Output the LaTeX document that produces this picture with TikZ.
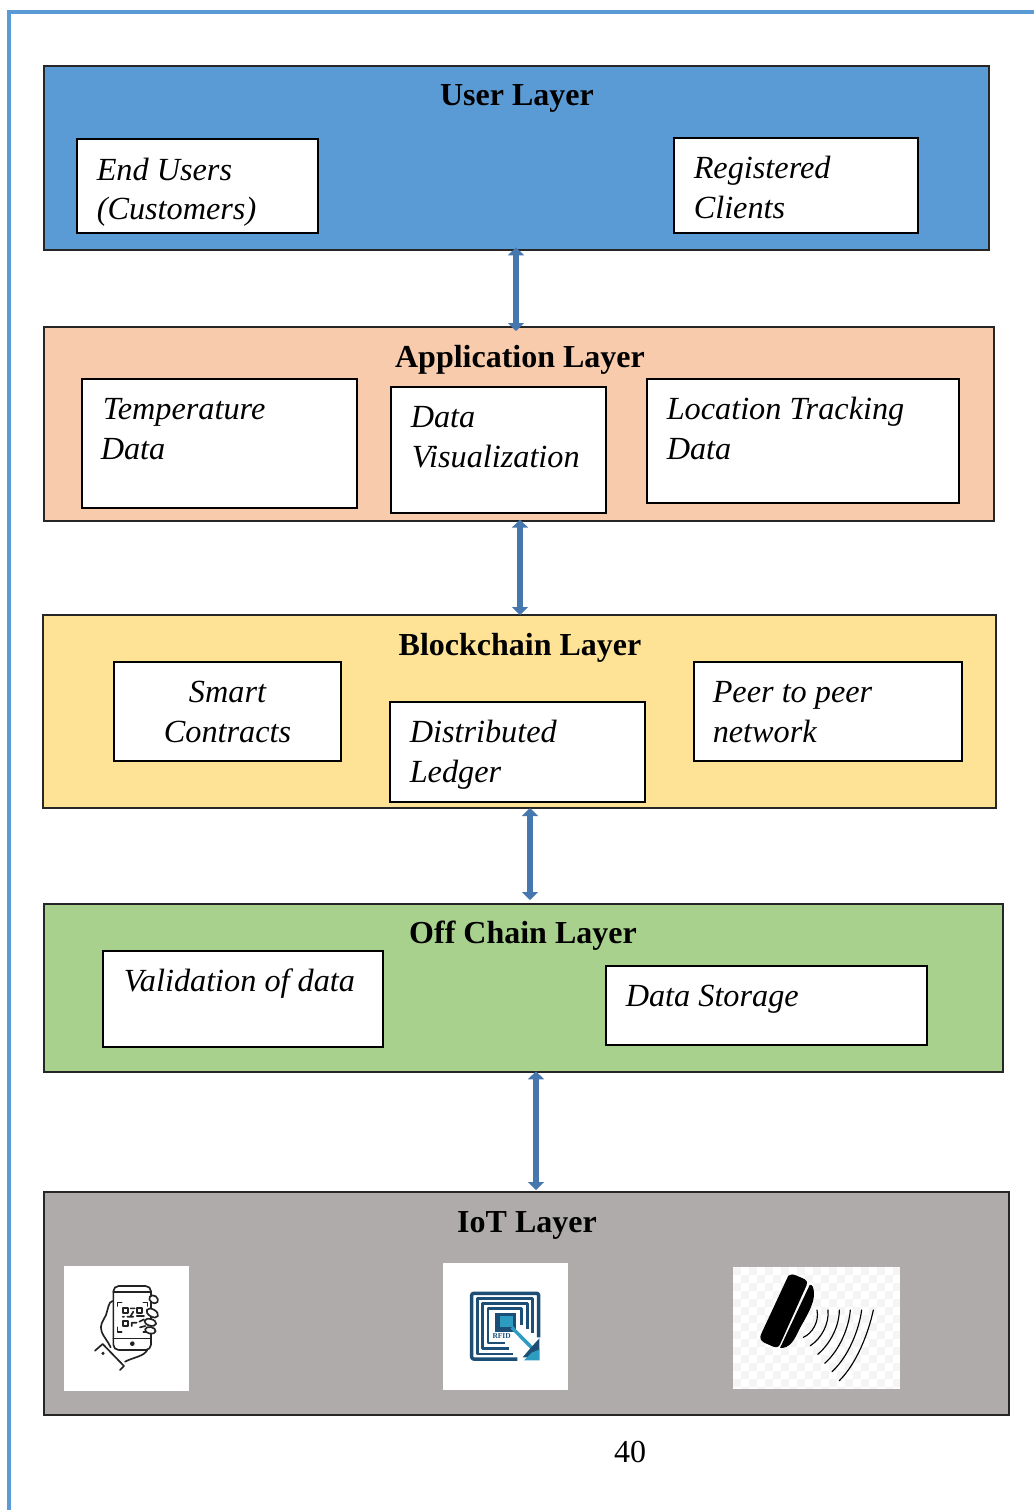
\documentclass[tikz,border=0pt]{standalone}
\usepackage{fontspec}
\setmainfont{Liberation Serif}
\usetikzlibrary{arrows.meta}
\definecolor{frameblue}{HTML}{5B9BD5}
\definecolor{userfill}{HTML}{5B9BD5}
\definecolor{appfill}{HTML}{F8CBAD}
\definecolor{chainfill}{HTML}{FEE396}
\definecolor{offfill}{HTML}{A9D18E}
\definecolor{iotfill}{HTML}{AFABAB}
\definecolor{linkblue}{HTML}{4677AE}
\definecolor{navy}{HTML}{1D4F76}
\definecolor{teal2}{HTML}{2E9CC0}
\definecolor{iconink}{HTML}{222222}
\tikzset{
  layer/.style={draw=black!85,line width=1.1pt,inner sep=0pt,outer sep=0pt},
  subbox/.style={draw=black,line width=1.05pt,fill=white,inner sep=0pt,outer sep=0pt},
  picbox/.style={fill=white,inner sep=0pt,outer sep=0pt},
  title/.style={anchor=base,inner sep=0pt,font=\fontsize{24}{28}\selectfont\bfseries},
  itext/.style={anchor=base west,inner sep=0pt,align=left,font=\fontsize{24.2}{30}\selectfont\itshape},
  link/.style={draw=linkblue,line width=4.8pt,{Triangle[width=12pt,length=6pt]}-{Triangle[width=12pt,length=6pt]}},
  frameline/.style={draw=frameblue,line width=2.7pt},
  ink/.style={draw=iconink,line width=1.25pt,line cap=round,line join=round},
  wave/.style={draw=black,line width=.85pt,line cap=round},
  rfidline/.style={draw=navy,line width=1.9pt,line join=round}
}
\newcommand{\rectnode}[6]{\node[#1,minimum width={(#5-#3)*0.75pt},minimum height={(#6-#4)*0.75pt}] (#2) at ({(#3+#5)/2},{(#4+#6)/2}) {};}
\begin{document}
\begin{tikzpicture}[x=0.75pt,y=-0.75pt]
\useasboundingbox (0,0) rectangle (1034,1510);
% page frame
\coordinate (f1) at (9,1510);
\coordinate (f2) at (9,12);
\coordinate (f3) at (1034,12);
\draw[frameline] (f1) -- (f2) -- (f3);
% layers
\rectnode{layer,fill=userfill}{user}{44}{66}{989}{250}
\rectnode{layer,fill=appfill}{app}{44}{327}{994}{521}
\rectnode{layer,fill=chainfill}{chain}{43}{615}{996}{808}
\rectnode{layer,fill=offfill}{off}{44}{904}{1003}{1072}
\rectnode{layer,fill=iotfill}{iot}{44}{1192}{1009}{1415}
% titles
\node[title] (t1) at (517,105.5) {User Layer};
\node[title] (t2) at (520,367) {Application Layer};
\node[title] (t3) at (520,655.5) {Blockchain Layer};
\node[title] (t4) at (523,943.5) {Off Chain Layer};
\node[title] (t5) at (527,1232) {IoT Layer};
% sub boxes
\rectnode{subbox}{b1}{77}{139}{318}{233}
\rectnode{subbox}{b2}{674}{138}{918}{233}
\rectnode{subbox}{b3}{82}{379}{357}{508}
\rectnode{subbox}{b4}{391}{387}{606}{513}
\rectnode{subbox}{b5}{647}{379}{959}{503}
\rectnode{subbox}{b6}{114}{662}{341}{761}
\rectnode{subbox}{b7}{390}{702}{645}{802}
\rectnode{subbox}{b8}{694}{662}{962}{761}
\rectnode{subbox}{b9}{103}{951}{383}{1047}
\rectnode{subbox}{b10}{606}{966}{927}{1045}
% sub box texts
\node[itext] (x1) at (96.5,180) {End Users};
\node[itext] (x1b) at (96.5,219) {(Customers)};
\node[itext] (x2) at (693.5,178) {Registered};
\node[itext] (x2b) at (693.5,218) {Clients};
\node[itext] (x3) at (102.5,419) {Temperature};
\node[itext] (x3b) at (100.5,459) {Data};
\node[itext] (x4) at (410.5,427) {Data};
\node[itext] (x4b) at (411.5,467) {Visualization};
\node[itext] (x5) at (666.5,419) {Location Tracking};
\node[itext] (x5b) at (666.5,459) {Data};
\node[itext,anchor=base] (x6) at (227.5,702) {Smart};
\node[itext,anchor=base] (x6b) at (227.5,742) {Contracts};
\node[itext] (x7) at (409.5,742) {Distributed};
\node[itext] (x7b) at (409.5,782) {Ledger};
\node[itext] (x8) at (712.5,702) {Peer to peer};
\node[itext] (x8b) at (712.5,742) {network};
\node[itext] (x9) at (123.5,991) {Validation of data};
\node[itext] (x10) at (625.5,1006) {Data Storage};
% connectors
\coordinate (c1) at (516,0);
\coordinate (c2) at (520,0);
\coordinate (c3) at (530,0);
\coordinate (c4) at (536,0);
\draw[link,shorten <=-2pt,shorten >=-3pt] (user.south -| c1) -- (app.north -| c1);
\draw[link,shorten <=-1pt,shorten >=0pt] (app.south -| c2) -- (chain.north -| c2);
\draw[link,shorten <=0pt,shorten >=3pt] (chain.south -| c3) -- (off.north -| c3);
\draw[link,shorten <=-0.5pt,shorten >=1.5pt] (off.south -| c4) -- (iot.north -| c4);
% page number
\node[anchor=base,inner sep=0pt,font=\fontsize{24}{28}\selectfont] (pg) at (630,1462) {40};
% picture backgrounds
\rectnode{picbox}{p1}{64}{1266}{189}{1391}
\rectnode{picbox}{p2}{443}{1263}{568}{1390}
\rectnode{picbox}{p3}{733}{1267}{900}{1389}
% checker of third picture
\foreach \i in {0,...,20}{\foreach \j in {0,...,15}{
  \pgfmathparse{int(mod(\i+\j,2))}
  \ifnum\pgfmathresult=0
    \fill[black!4] ({733+\i*8},{1267+\j*8}) rectangle ++({\ifnum\i=20 7\else 8\fi},{\ifnum\j=15 2\else 8\fi});
  \fi}}
% phone icon
\begin{scope}[shift={(40,1240)},x=0.25pt,y=-0.25pt]
\draw[ink,rounded corners=4pt] (220,138) rectangle (333,330);
\draw[ink] (220,155) -- (333,155) (220,295) -- (333,295);
\fill[iconink] (277,311) circle (7);
\draw[ink] (232,198) -- (232,187) -- (245,187) (310,187) -- (322,187) -- (322,198)
  (232,262) -- (232,275) -- (245,275) (310,275) -- (322,275) -- (322,262);
\draw[ink] (248,203) rectangle (263,218) (290,203) rectangle (305,218) (248,243) rectangle (263,258);
\draw[ink] (272,205) -- (284,205) (280,215) -- (272,228) (248,230) -- (252,230) (262,230) -- (280,230)
  (290,228) -- (312,228) (275,258) -- (275,248) -- (290,248) (298,245) -- (312,238) (300,262) -- (316,258);
\draw[ink,fill=white,rotate around={-35:(341,178)}] (341,178) ellipse (14 and 11);
\draw[ink,fill=white,rotate around={-30:(337,219)}] (337,219) ellipse (19 and 11);
\draw[ink,fill=white,rotate around={-15:(331,247)}] (331,247) ellipse (18 and 10);
\draw[ink,fill=white,rotate around={-10:(331,271)}] (331,271) ellipse (16 and 10);
\draw[ink] (218,183) .. controls (205,185) and (205,205) .. (198,225) .. controls (188,245) and (178,255) .. (185,275)
  .. controls (190,290) and (205,305) .. (212,322);
\draw[ink] (165,332) -- (188,312) -- (252,378) -- (240,390);
\fill[iconink] (189,340) circle (5);
\draw[ink] (255,365) .. controls (285,350) and (310,350) .. (322,330);
\end{scope}
% rfid icon
\begin{scope}[shift={(430,1250)},x=0.25pt,y=-0.25pt]
\draw[rfidline,line width=2.6pt,rounded corners=1.5pt] (326,262) -- (326,130) -- (125,130) -- (125,327) -- (262,327);
\draw[rfidline] (308,248) -- (308,146) -- (142,146) -- (142,312) -- (250,312);
\draw[rfidline] (292,236) -- (292,160) -- (158,160) -- (158,296) -- (238,296);
\draw[rfidline] (275,224) -- (275,176) -- (174,176) -- (174,279) -- (226,279);
\fill[navy] (195,190) rectangle (258,245);
\fill[teal2] (210,197) rectangle (250,232);
\fill[white] (182,247) rectangle (250,270);
\draw[draw=white,line width=4.5pt] (258,245) -- (300,288);
\draw[draw=teal2,line width=2.6pt] (245,232) -- (312,300);
\fill[navy] (328,265) -- (328,300) -- (300,322) -- (278,322) -- (300,296) -- cycle;
\fill[teal2] (329,298) -- (329,331) -- (282,331) -- (305,308) -- cycle;
\node[inner sep=0pt,font=\fontsize{5.6}{6}\selectfont\bfseries,text=navy] (rf) at (215,259) {RFID};
\end{scope}
% nfc icon
\begin{scope}[shift={(725,1255)},x=0.25pt,y=-0.25pt]
\fill[black] (190,62) .. controls (197,56) and (205,58) .. (215,62) -- (238,72) .. controls (246,77) and (248,82) .. (245,90)
  -- (165,268) .. controls (160,277) and (155,278) .. (145,275) -- (118,263) .. controls (106,257) and (104,248) .. (108,238) -- cycle;
\fill[black] (254,90) .. controls (262,88) and (266,96) .. (267,115) .. controls (268,150) and (240,190) .. (222,225)
  .. controls (208,255) and (195,280) .. (165,279) -- cycle;
\draw[wave] (276,165) .. controls (283,200) and (262,235) .. (235,247);
\draw[wave] (309,165) .. controls (313,205) and (290,250) .. (256,272);
\draw[wave] (343,165) .. controls (343,210) and (318,265) .. (278,298);
\draw[wave] (376,165) .. controls (372,215) and (345,285) .. (299,325);
\draw[wave] (410,165) .. controls (402,225) and (370,305) .. (321,350);
\draw[wave] (445,165) .. controls (430,235) and (395,325) .. (343,377);
\end{scope}
\end{tikzpicture}
\end{document}
